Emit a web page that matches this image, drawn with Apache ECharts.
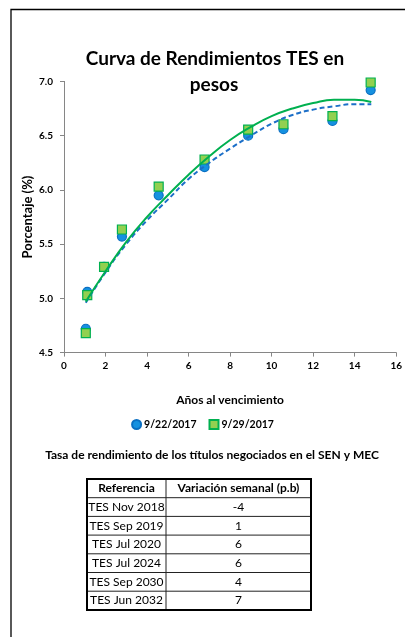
<!DOCTYPE html>
<html>
<head>
<meta charset="utf-8">
<script src="https://cdn.jsdelivr.net/npm/echarts@6/dist/echarts.min.js"></script>
<style>
html,body{margin:0;padding:0;background:#fff;}
#chart{width:405px;height:637px;}
</style>
</head>
<body>
<div id="chart"></div>
<script>
// ---- data ----
var seriesNames = ['9/22/2017', '9/29/2017'];
var maturities = [1.05, 1.12, 1.93, 2.79, 4.56, 6.77, 8.87, 10.57, 12.93, 14.77];
var yields0922 = [4.72, 5.06, 5.29, 5.57, 5.95, 6.21, 6.50, 6.56, 6.635, 6.92];
var yields0929 = [4.68, 5.03, 5.29, 5.635, 6.03, 6.28, 6.555, 6.605, 6.68, 6.99];
// trendlines
var trendX = [1.05, 2, 3, 4, 5, 6, 7, 8, 9, 10, 11, 12, 13, 14, 14.8];
var trend0922 = [4.96, 5.24, 5.50, 5.72, 5.91, 6.10, 6.25, 6.38, 6.50, 6.61, 6.69, 6.74, 6.77, 6.79, 6.79];
var trend0929 = [4.97, 5.25, 5.52, 5.75, 5.95, 6.14, 6.31, 6.46, 6.58, 6.68, 6.75, 6.80, 6.83, 6.83, 6.81];
var xTicks = [0, 2, 4, 6, 8, 10, 12, 14, 16];
var yTicks = [4.5, 5.0, 5.5, 6.0, 6.5, 7.0];
// texts
var titleLines = ['Curva de Rendimientos TES en', 'pesos'];
var tableCaption = 'Tasa de rendimiento de los títulos negociados en el SEN y MEC';
// table
var tableHeader = ['Referencia', 'Variación semanal (p.b)'];
var tableRefs = ['TES Nov 2018', 'TES Sep 2019', 'TES Jul 2020', 'TES Jul 2024', 'TES Sep 2030', 'TES Jun 2032'];
var tableChanges = [-4, 1, 6, 6, 4, 7];

var FONT = 'Lato, "Liberation Sans", sans-serif';

function pairs(xs, ys) { return xs.map(function (x, i) { return [x, ys[i]]; }); }

var tLeft = 87, tRight = 311, tTop = 479, rowH = 18.7, colX = 166;
var nRows = tableRefs.length + 1;
var g = [];
// frame of whole picture
g.push({type: 'polyline', shape: {points: [[11, 640], [11, 9.5], [410, 9.5]]}, style: {stroke: '#000', lineWidth: 1.3, fill: null}, z: 10});
// title
g.push({type: 'text', x: 215, y: 59, style: {text: titleLines[0], font: 'bold 19px ' + FONT, fill: '#000', align: 'center', verticalAlign: 'middle'}});
g.push({type: 'text', x: 214, y: 85, style: {text: titleLines[1], font: 'bold 19px ' + FONT, fill: '#000', align: 'center', verticalAlign: 'middle'}});
// caption
g.push({type: 'text', x: 212, y: 455, style: {text: tableCaption, font: 'bold 12px ' + FONT, fill: '#000', align: 'center', verticalAlign: 'middle'}});
// table
for (var r = 1; r < nRows; r++) {
  g.push({type: 'line', shape: {x1: tLeft, y1: tTop + r * rowH, x2: tRight, y2: tTop + r * rowH}, style: {stroke: '#222', lineWidth: 1}});
}
g.push({type: 'line', shape: {x1: colX, y1: tTop, x2: colX, y2: tTop + nRows * rowH}, style: {stroke: '#222', lineWidth: 1}});
g.push({type: 'rect', shape: {x: tLeft, y: tTop, width: tRight - tLeft, height: nRows * rowH}, style: {stroke: '#000', lineWidth: 2, fill: null}});
var col1c = (tLeft + colX) / 2, col2c = (colX + tRight) / 2;
g.push({type: 'text', x: col1c, y: tTop + rowH / 2, style: {text: tableHeader[0], font: 'bold 12px ' + FONT, fill: '#000', align: 'center', verticalAlign: 'middle'}});
g.push({type: 'text', x: col2c, y: tTop + rowH / 2, style: {text: tableHeader[1], font: 'bold 12px ' + FONT, fill: '#000', align: 'center', verticalAlign: 'middle'}});
tableRefs.forEach(function (ref, i) {
  var cy = tTop + (i + 1.5) * rowH;
  g.push({type: 'text', x: col1c, y: cy, style: {text: ref, font: '12px ' + FONT, fill: '#000', align: 'center', verticalAlign: 'middle'}});
  g.push({type: 'text', x: col2c, y: cy, style: {text: String(tableChanges[i]), font: '12px ' + FONT, fill: '#000', align: 'center', verticalAlign: 'middle'}});
});

var chart = echarts.init(document.getElementById('chart'), null, {renderer: 'canvas'});
chart.setOption({
  animation: false,
  backgroundColor: '#fff',
  textStyle: {fontFamily: FONT},
  legend: {
    data: [{name: seriesNames[0], icon: 'circle'}, {name: seriesNames[1], icon: 'rect'}],
    top: 414, left: 'center',
    itemWidth: 9, itemHeight: 9, itemGap: 12,
    textStyle: {fontFamily: FONT, fontWeight: 'bold', fontSize: 10.5, color: '#000', padding: [0, 0, 0, -2]}
  },
  grid: {left: 64, right: 7, top: 81.4, bottom: 284.4, containLabel: false},
  xAxis: {
    type: 'value', min: xTicks[0], max: xTicks[xTicks.length - 1], interval: 2,
    name: 'Años al vencimiento', nameLocation: 'middle', nameGap: 42, nameMoveOverlap: false,
    nameTextStyle: {fontFamily: FONT, fontWeight: 'bold', fontSize: 12, color: '#000'},
    axisLine: {lineStyle: {color: '#868686', width: 1}},
    axisTick: {show: true, length: 4, lineStyle: {color: '#868686'}},
    axisLabel: {fontFamily: FONT, fontWeight: 'bold', fontSize: 10, color: '#000', margin: 8},
    splitLine: {show: false}
  },
  yAxis: {
    type: 'value', min: yTicks[0], max: yTicks[yTicks.length - 1], interval: 0.5,
    name: 'Porcentaje (%)', nameLocation: 'middle', nameGap: 30, nameMoveOverlap: false,
    nameTextStyle: {fontFamily: FONT, fontWeight: 'bold', fontSize: 13, color: '#000'},
    axisLine: {show: true, lineStyle: {color: '#868686', width: 1}},
    axisTick: {show: true, length: 4, lineStyle: {color: '#868686'}},
    axisLabel: {fontFamily: FONT, fontWeight: 'bold', fontSize: 10, color: '#000', margin: 11,
      formatter: function (v) { return v.toFixed(1); }},
    splitLine: {show: false}
  },
  series: [
    {
      name: seriesNames[0], type: 'scatter', data: pairs(maturities, yields0922),
      symbol: 'circle', symbolSize: 9,
      itemStyle: {color: '#1591e0', borderColor: '#0a6fc2', borderWidth: 1.2, opacity: 1}, z: 2
    },
    {
      name: seriesNames[1], type: 'scatter', data: pairs(maturities, yields0929),
      symbol: 'rect', symbolSize: 9,
      itemStyle: {color: '#92d050', borderColor: '#00b050', borderWidth: 1.2, opacity: 1}, z: 3
    },
    {
      name: 'trend ' + seriesNames[0], type: 'line', data: pairs(trendX, trend0922), smooth: true,
      showSymbol: false, symbol: 'none', lineStyle: {color: '#1c6fc8', width: 2, type: [5, 3]}, z: 4, silent: true
    },
    {
      name: 'trend ' + seriesNames[1], type: 'line', data: pairs(trendX, trend0929), smooth: true,
      showSymbol: false, symbol: 'none', lineStyle: {color: '#00b050', width: 2}, z: 5, silent: true
    }
  ],
  graphic: g
});
</script>
</body>
</html>
